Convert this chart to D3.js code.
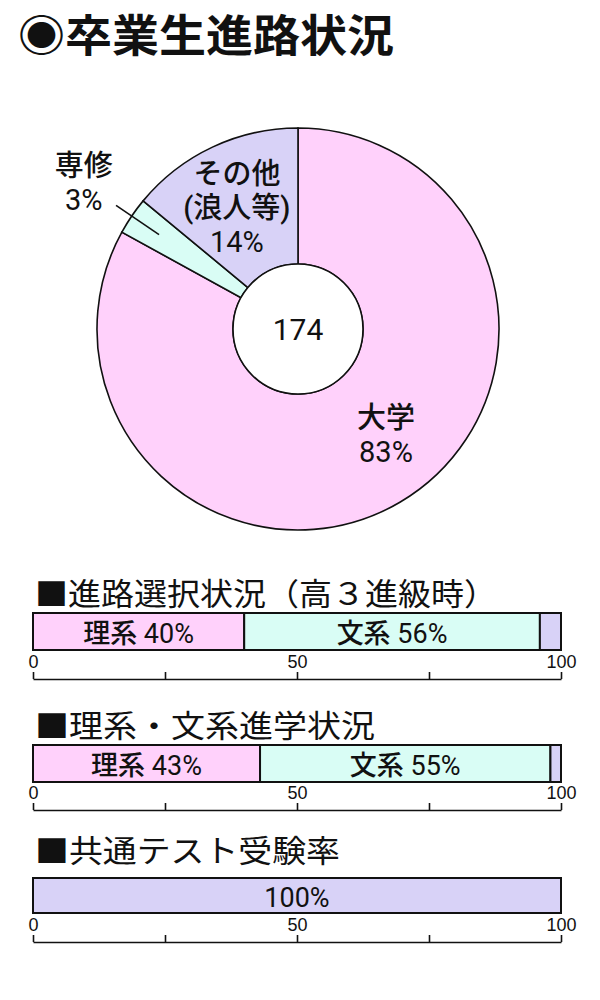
<!DOCTYPE html>
<html>
<head>
<meta charset="utf-8">
<script src="https://cdn.jsdelivr.net/npm/d3@7"></script>
<style>
  html, body { margin: 0; padding: 0; background: #fff; }
  svg { display: block; }
  text { font-family: "Liberation Sans", "Noto Sans CJK JP", sans-serif; fill: #111; }
  .lbl { font-family: Roboto, "Noto Sans CJK JP", sans-serif; }
  .cjk { font-family: "Noto Sans CJK JP", sans-serif; }
</style>
</head>
<body>
<div id="chart"></div>
<script>
// Donut data
const pieCategories = ['大学', '専修', 'その他'];
const pieLabelLines = [['大学', '83%'], ['専修', '3%'], ['その他', '(浪人等)', '14%']];
const pieValues = [83, 3, 14];
const pieTotal = 174;

// Bar data
const barTitles = ['■進路選択状況（高３進級時）', '■理系・文系進学状況', '■共通テスト受験率'];
const barSeries = ['理系', '文系', 'その他'];
const barValues = [
  [40, 56, 4],
  [43, 55, 2],
  [0, 0, 100]
];
const barLabels = [
  ['理系 40%', '文系 56%', ''],
  ['理系 43%', '文系 55%', ''],
  ['', '', '100%']
];
const tickValues = [0, 25, 50, 75, 100];
const tickLabelValues = [0, 50, 100];

const width = 600, height = 1000;
const colors = { '大学': '#ffd1fb', '専修': '#d9fdf5', 'その他': '#d8d2f7', '理系': '#ffd1fb', '文系': '#d9fdf5' };

const isNum = s => /^[0-9%]+$/.test(s);

const svg = d3.select('#chart').append('svg')
  .attr('width', width).attr('height', height)
  .attr('viewBox', `0 0 ${width} ${height}`);

// Main title
svg.append('text')
  .attr('class', 'cjk')
  .attr('x', 18).attr('y', 33)
  .attr('dominant-baseline', 'central')
  .attr('font-size', 44)
  .attr('font-weight', 700)
  .attr('textLength', 376)
  .attr('lengthAdjust', 'spacingAndGlyphs')
  .text('◉卒業生進路状況');

// Donut
const cx = 298, cy = 329, rOuter = 201, rInner = 65;
const pie = d3.pie().sort(null).value(d => d)(pieValues);
const arc = d3.arc().innerRadius(rInner).outerRadius(rOuter);

const donut = svg.append('g').attr('transform', `translate(${cx},${cy})`);
donut.selectAll('path.slice')
  .data(pie)
  .join('path')
  .attr('class', 'slice')
  .attr('d', arc)
  .attr('fill', (d, i) => colors[pieCategories[i]])
  .attr('stroke', '#111')
  .attr('stroke-width', 1.6);

donut.append('circle')
  .attr('r', rInner)
  .attr('fill', '#fff')
  .attr('stroke', '#111')
  .attr('stroke-width', 1.6);

donut.append('text')
  .attr('class', 'lbl')
  .attr('text-anchor', 'middle')
  .attr('dominant-baseline', 'central')
  .attr('font-size', 30)
  .text(pieTotal);

// label placement: inside labels for big slices, outside with leader for small
const labelRadius = { '大学': 138, '専修': 259, 'その他': 136 };
const labelAngleShift = { '大学': -9, '専修': 0, 'その他': -1.5 };
const lineGap = 34;

pie.forEach((d, i) => {
  const cat = pieCategories[i];
  const mid = (d.startAngle + d.endAngle) / 2 + labelAngleShift[cat] * Math.PI / 180;
  const r = labelRadius[cat];
  const lx = Math.sin(mid) * r;
  const ly = -Math.cos(mid) * r;
  const lines = pieLabelLines[i];
  const t = donut.append('text')
    .attr('class', 'lbl')
    .attr('text-anchor', 'middle')
    .attr('font-size', 29);
  lines.forEach((ln, k) => {
    t.append('tspan')
      .attr('x', lx)
      .attr('y', ly + (k - (lines.length - 1) / 2) * lineGap)
      .attr('dominant-baseline', 'central')
      .attr('font-weight', isNum(ln) ? 400 : 500)
      .text(ln);
  });

  if (r > rOuter) {
    const a0 = (d.startAngle + d.endAngle) / 2;
    donut.append('line')
      .attr('x1', Math.sin(a0) * 168).attr('y1', -Math.cos(a0) * 168)
      .attr('x2', Math.sin(a0) * 220).attr('y2', -Math.cos(a0) * 220)
      .attr('stroke', '#111')
      .attr('stroke-width', 1.6);
  }
});

// Stacked 100% bars
const x = d3.scaleLinear().domain([0, 100]).range([33, 561]);
const titleY = [591, 723, 848];
const titleLen = [462, 340, 305];
const barTop = [613, 745, 878];
const barH = [37, 37, 35];
const axisY = [679, 810, 942];

barTitles.forEach((title, b) => {
  svg.append('text')
    .attr('class', 'cjk')
    .attr('x', 35).attr('y', titleY[b])
    .attr('dominant-baseline', 'central')
    .attr('font-size', 31)
    .attr('textLength', titleLen[b])
    .attr('lengthAdjust', 'spacingAndGlyphs')
    .text(title);

  const stack = [];
  let acc = 0;
  barValues[b].forEach((v, s) => {
    stack.push({ series: barSeries[s], x0: acc, x1: acc + v, label: barLabels[b][s] });
    acc += v;
  });
  const segs = stack.filter(d => d.x1 > d.x0);

  const g = svg.append('g');
  g.selectAll('rect')
    .data(segs)
    .join('rect')
    .attr('x', d => x(d.x0))
    .attr('y', barTop[b])
    .attr('width', d => x(d.x1) - x(d.x0))
    .attr('height', barH[b])
    .attr('fill', d => colors[d.series] || colors['その他'])
    .attr('stroke', '#111')
    .attr('stroke-width', 2);

  g.selectAll('text')
    .data(segs.filter(d => d.label))
    .join('text')
    .attr('class', 'lbl')
    .attr('x', d => x((d.x0 + d.x1) / 2))
    .attr('y', barTop[b] + barH[b] / 2 + 2)
    .attr('text-anchor', 'middle')
    .attr('dominant-baseline', 'central')
    .attr('font-size', 27)
    .each(function(d) {
      const parts = d.label.split(' ');
      const t = d3.select(this);
      parts.forEach((p, k) => {
        t.append('tspan')
          .attr('font-weight', isNum(p) ? 400 : 500)
          .text((k > 0 ? ' ' : '') + p);
      });
    });

  const axis = d3.axisTop(x)
    .tickValues(tickValues)
    .tickSize(7)
    .tickSizeOuter(0)
    .tickPadding(4)
    .tickFormat(d => tickLabelValues.includes(d) ? d : '');

  const ag = svg.append('g')
    .attr('transform', `translate(0,${axisY[b]})`)
    .call(axis);
  ag.select('.domain').attr('stroke', '#111').attr('stroke-width', 1.6);
  ag.selectAll('.tick line').attr('stroke', '#111').attr('stroke-width', 1.6);
  ag.selectAll('.tick text')
    .attr('font-size', 18)
    .attr('font-family', '"Liberation Sans", sans-serif')
    .attr('fill', '#111');
});
</script>
</body>
</html>
